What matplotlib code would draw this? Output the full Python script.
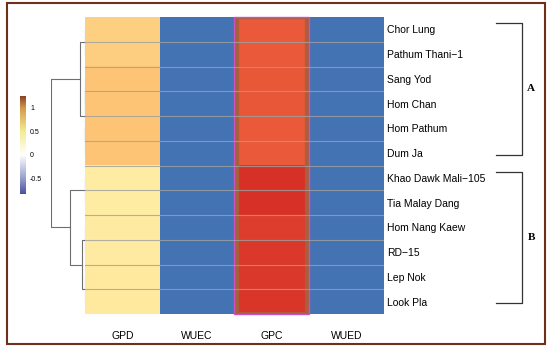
import numpy as np
import matplotlib
matplotlib.use('Agg')
import matplotlib.pyplot as plt
from matplotlib.colors import LinearSegmentedColormap, Normalize
from matplotlib.patches import Rectangle

plt.rcParams['font.family'] = ['Liberation Sans', 'DejaVu Sans']

# data
varieties = ['Chor Lung', 'Pathum Thani\u22121', 'Sang Yod', 'Hom Chan', 'Hom Pathum', 'Dum Ja',
             'Khao Dawk Mali\u2212105', 'Tia Malay Dang', 'Hom Nang Kaew', 'RD\u221215',
             'Lep Nok', 'Look Pla']
traits = ['GPD', 'WUEC', 'GPC', 'WUED']
gpd = [0.26, 0.27, 0.31, 0.31, 0.31, 0.31, 0.12, 0.12, 0.13, 0.13, 0.14, 0.14]
wuec = [-0.8] * 12
gpc = [0.66, 0.66, 0.67, 0.67, 0.66, 0.66, 0.79, 0.79, 0.75, 0.77, 0.77, 0.78]
wued = [-0.8] * 12

# hierarchical merges: (left, right, height); new cluster ids start at 12
merges = [(0, 1, 0.3), (2, 3, 0.2), (4, 5, 0.2), (13, 14, 0.5), (12, 15, 5.0),
          (6, 7, 0.3), (8, 9, 0.2), (10, 11, 0.2), (18, 19, 3.0), (17, 20, 15.0),
          (16, 21, 34.0)]
groups = [('A', 0, 5), ('B', 6, 11)]

tick_vals = [1, 0.5, 0, -0.5]
cbar_lo, cbar_hi = -0.83, 1.25

mat = np.array([gpd, wuec, gpc, wued]).T
nr, nc = mat.shape

W, H = 550, 351
fig = plt.figure(figsize=(W / 100, H / 100), dpi=100)
def fbox(x0, y0, x1, y1):
    return [x0 / W, 1 - y1 / H, (x1 - x0) / W, (y1 - y0) / H]

# outer frame
fig.patches.append(Rectangle((7 / W, 1 - 344 / H), 538 / W, 341 / H, transform=fig.transFigure,
                             fill=False, edgecolor='#6e3018', lw=1.5))

# heatmap
ax = fig.add_axes(fbox(85, 17, 384, 314))
ax.imshow(mat, cmap='RdYlBu_r', norm=Normalize(-1, 1), aspect='auto', interpolation='nearest',
          extent=(-0.5, nc - 0.5, nr - 0.5, -0.5))
for i in range(1, nr):
    ax.axhline(i - 0.5, color='#a0a0a0', lw=0.8, alpha=0.8)
for s in ax.spines.values():
    s.set_visible(False)
gi = traits.index('GPC')
ax.add_patch(Rectangle((gi - 0.47, -0.48), 0.94, nr - 0.04, fill=False, edgecolor='#a8603a', lw=3))
ax.add_patch(Rectangle((gi - 0.5, -0.5), 1.0, nr, fill=False, edgecolor='#d050c0', lw=1, clip_on=False))
ax.set_xticks(range(nc))
ax.set_xticklabels(traits, fontsize=7.5)
ax.set_yticks(range(nr))
ax.set_yticklabels(varieties, fontsize=7.5)
ax.yaxis.tick_right()
ax.tick_params(axis='both', length=0)
ax.tick_params(axis='x', pad=12)
ax.tick_params(axis='y', pad=2)
ax.set_xlim(-0.5, nc - 0.5)
ax.set_ylim(nr - 0.5, -0.5)

# group brackets
tr = ax.get_yaxis_transform()
for name, a, b in groups:
    y0, y1 = a - 0.25, b + 0.07
    ax.plot([1.375, 1.4615, 1.4615, 1.375], [y0, y0, y1, y1], transform=tr, clip_on=False,
            color='#333333', lw=0.9)
    ax.text(1.492, (a + b) / 2 - 0.1, name, transform=tr, ha='center', va='center',
            fontsize=8, fontweight='bold', family=['Liberation Serif'])

# dendrogram
axd = fig.add_axes(fbox(51, 17, 85, 314))
pos = {i: (0.0, float(i)) for i in range(nr)}
for k, (l, r, h) in enumerate(merges):
    hl, yl = pos[l]
    hr, yr = pos[r]
    axd.plot([hl, h, h, hr], [yl, yl, yr, yr], color='#6e6e6e', lw=0.8)
    pos[nr + k] = (h, (yl + yr) / 2)
axd.set_xlim(merges[-1][2], 0)
axd.set_ylim(nr - 0.5, -0.5)
axd.axis('off')

# colour key
key_cmap = LinearSegmentedColormap.from_list('key', [
    (0.0, '#4a52a0'),
    ((-0.5 - cbar_lo) / (cbar_hi - cbar_lo), '#97a0cc'),
    ((0 - cbar_lo) / (cbar_hi - cbar_lo), '#ffffff'),
    ((0.5 - cbar_lo) / (cbar_hi - cbar_lo), '#f3ec92'),
    ((1.0 - cbar_lo) / (cbar_hi - cbar_lo), '#d49a48'),
    (1.0, '#8a4426')])
axc = fig.add_axes(fbox(20, 96, 26, 194))
grad = np.linspace(cbar_lo, cbar_hi, 200).reshape(-1, 1)
axc.imshow(grad, cmap=key_cmap, aspect='auto', origin='lower', extent=(0, 1, cbar_lo, cbar_hi))
axc.set_xticks([])
axc.yaxis.tick_right()
axc.set_yticks(tick_vals)
axc.set_yticklabels([str(v) for v in tick_vals], fontsize=5)
axc.tick_params(axis='y', length=0, pad=3)
for s in axc.spines.values():
    s.set_visible(False)

fig.savefig('out.png', dpi=100)
